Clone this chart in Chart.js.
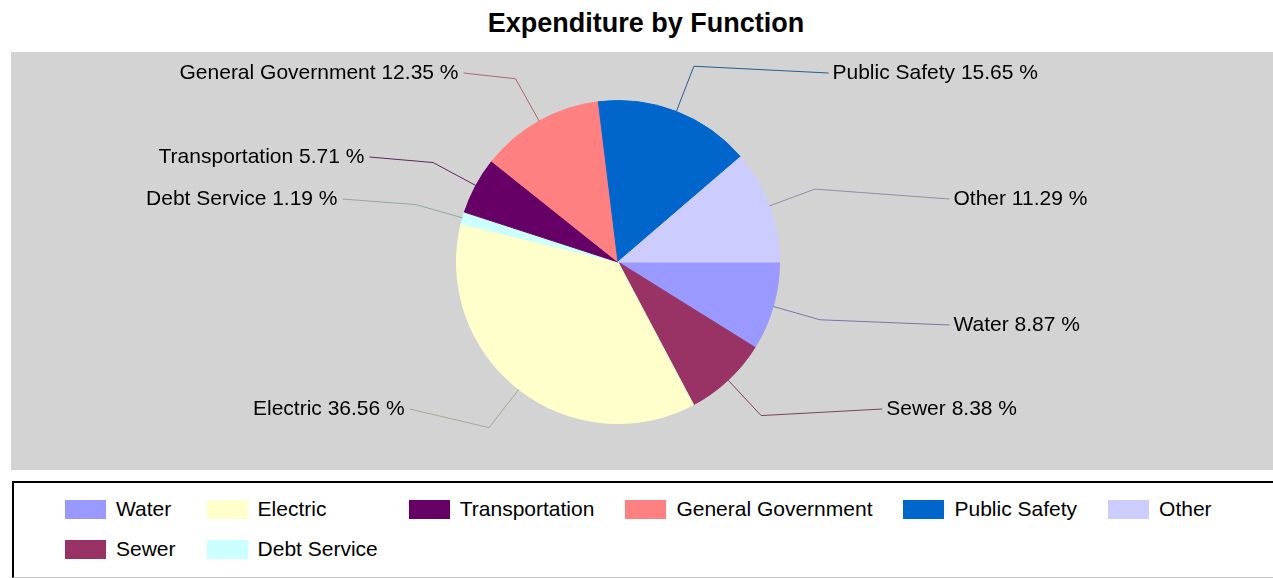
<!DOCTYPE html>
<html>
<head>
<meta charset="utf-8">
<script src="https://cdn.jsdelivr.net/npm/chart.js@4.4.1/dist/chart.umd.min.js"></script>
<style>
html,body{margin:0;padding:0;background:#fff;overflow:hidden;width:1273px;height:578px;}
body{position:relative;font-family:"Liberation Sans",Arial,sans-serif;}
#title{position:absolute;left:0;top:1px;width:1292px;height:44px;line-height:44px;text-align:center;font-weight:bold;font-size:27px;color:#000;}
#plot{position:absolute;left:11px;top:52px;width:1270px;height:418px;background:#d3d3d3;}
#legend{position:absolute;left:12px;top:481px;width:1300px;height:94px;border-top:2px solid #000;border-left:2px solid #000;border-bottom:1px solid #c8c8c8;}
#legend ul{list-style:none;margin:0;padding:14px 0 0 51px;display:grid;grid-template-columns:repeat(6,max-content);column-gap:31px;row-gap:16px;}
#legend li{display:flex;align-items:center;height:24px;font-size:21px;color:#000;white-space:nowrap;}
#legend .sw{width:41px;height:19px;margin-right:10px;flex:none;}
</style>
</head>
<body>
<div id="title">Expenditure by Function</div>
<div id="plot"><canvas id="chart"></canvas></div>
<div id="legend"></div>
<script>
// ---- data ----
const categories = ['Water', 'Sewer', 'Electric', 'Debt Service', 'Transportation', 'General Government', 'Public Safety', 'Other'];
const percentValues = [8.87, 8.38, 36.56, 1.19, 5.71, 12.35, 15.65, 11.29];
const sliceColors = ['#9999FF', '#993366', '#FFFFCC', '#CCFFFF', '#660066', '#FF8080', '#0066CC', '#CCCCFF'];
const legendOrder = ['Water', 'Electric', 'Transportation', 'General Government', 'Public Safety', 'Other', 'Sewer', 'Debt Service'];

// label layout parameters
const ROW_H = 42;          // label rows grid
const LABEL_SPREAD = 318.6; // horizontal reach of label anchors from plot centre
const LABEL_CURVE = 0.00381;

function mix(hex, other, t) {
  const a = parseInt(hex.slice(1), 16), b = parseInt(other.slice(1), 16);
  const c = [16, 8, 0].map(s => Math.round(((a >> s) & 255) * (1 - t) + ((b >> s) & 255) * t));
  return 'rgb(' + c.join(',') + ')';
}

const calloutPlugin = {
  id: 'callouts',
  afterDatasetsDraw(chart) {
    const ctx = chart.ctx;
    const meta = chart.getDatasetMeta(0);
    const ds = chart.data.datasets[0];
    const maxRow = Math.floor(chart.height / ROW_H) - 1;
    const plotCx = chart.width / 2;
    ctx.save();
    ctx.font = '21px "Liberation Sans", Arial, sans-serif';
    ctx.textBaseline = 'middle';
    meta.data.forEach((arc, i) => {
      const p = arc.getProps(['x', 'y', 'startAngle', 'endAngle', 'outerRadius'], true);
      const a = (p.startAngle + p.endAngle) / 2;
      const r = p.outerRadius;
      const x0 = p.x + Math.cos(a) * r, y0 = p.y + Math.sin(a) * r;
      const ex = p.x + Math.cos(a) * r * 1.3, ey = p.y + Math.sin(a) * r * 1.3;
      let row = Math.floor(ey / ROW_H);
      row = Math.max(0, Math.min(maxRow, row));
      const ly = ROW_H * (row + 0.5);
      const dy = ly - p.y;
      const reach = LABEL_SPREAD - LABEL_CURVE * dy * dy;
      const right = Math.cos(a) >= 0;
      const lx = right ? plotCx + reach : plotCx - reach;
      ctx.strokeStyle = mix(ds.backgroundColor[i], '#505050', 0.5);
      ctx.lineWidth = 1;
      ctx.beginPath();
      ctx.moveTo(x0, y0);
      ctx.lineTo(ex, ey);
      ctx.lineTo(lx, ly);
      ctx.stroke();
      ctx.fillStyle = '#000';
      ctx.textAlign = right ? 'left' : 'right';
      ctx.fillText(chart.data.labels[i] + ' ' + ds.data[i].toFixed(2) + ' %', right ? lx + 4 : lx - 5, ly);
    });
    ctx.restore();
  }
};

const htmlLegendPlugin = {
  id: 'htmlLegend',
  afterUpdate(chart) {
    const box = document.getElementById('legend');
    box.innerHTML = '';
    const ul = document.createElement('ul');
    const items = Chart.overrides.pie.plugins.legend.labels.generateLabels(chart);
    items.sort((a, b) => legendOrder.indexOf(a.text) - legendOrder.indexOf(b.text));
    items.forEach(it => {
      const li = document.createElement('li');
      const sw = document.createElement('span');
      sw.className = 'sw';
      sw.style.background = it.fillStyle;
      const tx = document.createElement('span');
      tx.textContent = it.text;
      li.appendChild(sw);
      li.appendChild(tx);
      ul.appendChild(li);
    });
    box.appendChild(ul);
  }
};

new Chart(document.getElementById('chart'), {
  type: 'pie',
  data: {
    labels: categories,
    datasets: [{
      data: percentValues,
      backgroundColor: sliceColors,
      borderColor: sliceColors,
      borderWidth: 1,
      hoverOffset: 0,
      offset: 0
    }]
  },
  options: {
    responsive: true,
    maintainAspectRatio: false,
    animation: false,
    rotation: 90,
    layout: { padding: { top: 48, bottom: 46, left: 200, right: 256 } },
    plugins: {
      legend: { display: false },
      title: { display: false },
      tooltip: { enabled: false }
    }
  },
  plugins: [calloutPlugin, htmlLegendPlugin]
});
</script>
</body>
</html>
